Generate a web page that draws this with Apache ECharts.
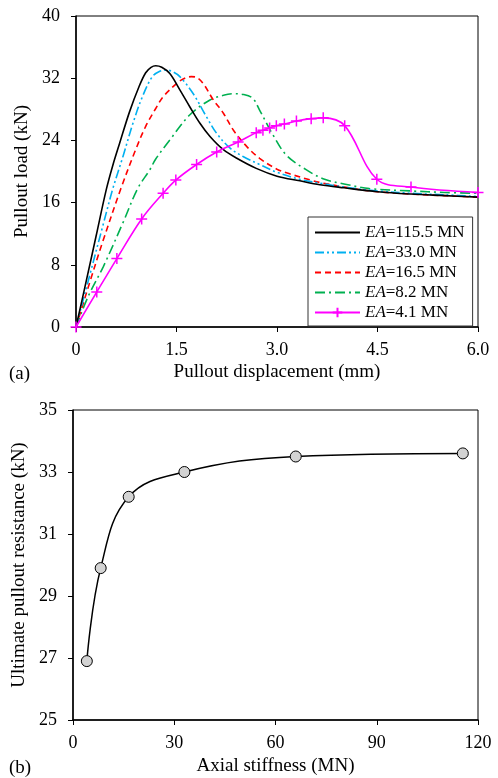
<!DOCTYPE html>
<html>
<head>
<meta charset="utf-8">
<script src="https://cdn.jsdelivr.net/npm/echarts@6/dist/echarts.min.js"></script>
<style>html,body{margin:0;padding:0;background:#fff}#c{width:498px;height:778px}</style>
</head>
<body>
<div id="c"></div>
<script>
// ---- Panel (a): pullout load vs displacement ----
const xTicksA = [0, 1.5, 3.0, 4.5, 6.0];
const yTicksA = [0, 8, 16, 24, 32, 40];
const seriesNamesA = ['EA=115.5 MN', 'EA=33.0 MN', 'EA=16.5 MN', 'EA=8.2 MN', 'EA=4.1 MN'];
const ea115 = [[0,0],[0.15,5.8],[0.3,11.7],[0.45,17.6],[0.55,20.8],[0.65,23.6],[0.8,27.7],[0.94,30.9],[1.04,32.7],[1.12,33.4],[1.19,33.6],[1.28,33.4],[1.4,32.6],[1.55,30.5],[1.7,28.3],[1.85,26.2],[2.0,24.5],[2.2,22.8],[2.4,21.7],[2.69,20.4],[3.0,19.4],[3.34,18.8],[3.64,18.3],[4.0,17.9],[4.5,17.4],[5.0,17.1],[5.5,16.9],[6.0,16.7]];
const ea33 = [[0,0],[0.2,6.5],[0.4,13.0],[0.55,17.8],[0.7,21.9],[0.85,26.2],[0.99,29.6],[1.14,32.2],[1.25,32.9],[1.35,33.05],[1.45,32.8],[1.55,32.2],[1.75,30.0],[1.95,27.0],[2.1,24.9],[2.3,23.0],[2.5,21.9],[2.74,20.9],[3.0,19.9],[3.34,19.0],[3.64,18.5],[4.0,18.0],[4.5,17.5],[5.0,17.2],[5.5,17.0],[6.0,16.8]];
const ea16 = [[0,0],[0.2,5.6],[0.4,11.0],[0.67,17.8],[0.89,22.8],[1.04,25.8],[1.19,28.1],[1.3,29.6],[1.5,31.3],[1.6,31.9],[1.72,32.2],[1.8,32.1],[1.9,31.3],[2.05,29.2],[2.2,27.5],[2.35,25.3],[2.55,23.2],[2.74,21.7],[3.0,20.3],[3.19,19.7],[3.5,18.9],[3.69,18.5],[4.14,17.8],[4.5,17.4],[5.0,17.1],[5.5,16.9],[6.0,16.7]];
const ea8 = [[0,0],[0.18,3.9],[0.41,7.8],[0.7,13.4],[0.92,17.8],[1.1,20.2],[1.19,21.6],[1.4,24.05],[1.7,27.3],[2.0,29.2],[2.2,29.8],[2.35,30.0],[2.5,29.9],[2.64,29.4],[2.74,27.9],[2.94,24.7],[3.14,22.1],[3.44,20.2],[3.71,19.0],[4.0,18.4],[4.38,17.8],[5.0,17.5],[5.5,17.3],[6.0,17.2]];
const ea4 = [[0,0],[0.31,4.5],[0.61,8.8],[0.98,13.9],[1.30,17.2],[1.49,18.9],[1.80,20.9],[2.10,22.5],[2.42,23.8],[2.69,25.0],[2.79,25.3],[2.89,25.6],[2.99,25.9],[3.11,26.1],[3.29,26.5],[3.51,26.8],[3.69,26.9],[4.01,25.9],[4.49,19.0],[5.0,18.0],[6.0,17.3]];

// ---- Panel (b): ultimate pullout resistance vs axial stiffness ----
const xTicksB = [0, 30, 60, 90, 120];
const yTicksB = [25, 27, 29, 31, 33, 35];
const axialStiffness = [4.1, 8.2, 16.5, 33.0, 66.0, 115.5];
const ultimateResistance = [26.9, 29.9, 32.2, 33.0, 33.5, 33.6];

const FONT = 'Liberation Serif';
const tickTxt = {fontFamily: FONT, fontSize: 18, color: '#000'};
const nameTxt = {fontFamily: FONT, fontSize: 19, color: '#000'};

function valueAxis(ticks, fmt, extra, margin) {
  return Object.assign({
    type: 'value', min: ticks[0], max: ticks[ticks.length - 1],
    interval: ticks[1] - ticks[0],
    axisLine: {show: true, lineStyle: {color: '#000', width: 1.5}},
    axisTick: {show: true, inside: false, length: 5, lineStyle: {color: '#000', width: 1}},
    axisLabel: Object.assign({margin: margin, formatter: fmt}, tickTxt),
    splitLine: {show: false},
    nameLocation: 'middle',
    nameTextStyle: nameTxt
  }, extra);
}

const chart = echarts.init(document.getElementById('c'), null, {renderer: 'canvas'});
const lineCommon = {type: 'line', xAxisIndex: 0, yAxisIndex: 0, smooth: 0.35, symbol: 'none', showSymbol: false, animation: false};

chart.setOption({
  backgroundColor: '#fff',
  animation: false,
  title: [
    {text: '(a)', left: 4, top: 360, textStyle: Object.assign({fontWeight: 'normal'}, nameTxt)},
    {text: '(b)', left: 4, top: 754, textStyle: Object.assign({fontWeight: 'normal'}, nameTxt)}
  ],
  grid: [
    {left: 76, top: 16, width: 402, height: 311, show: true, borderColor: '#000', borderWidth: 1, backgroundColor: 'transparent'},
    {left: 73, top: 410, width: 405, height: 310, show: true, borderColor: '#000', borderWidth: 1, backgroundColor: 'transparent'}
  ],
  xAxis: [
    valueAxis(xTicksA, v => v === 0 ? '0' : v.toFixed(1), {gridIndex: 0, name: 'Pullout displacement (mm)', nameGap: 36}, 14),
    valueAxis(xTicksB, v => String(v), {gridIndex: 1, name: 'Axial stiffness (MN)', nameGap: 37}, 14)
  ],
  yAxis: [
    valueAxis(yTicksA, v => String(v), {gridIndex: 0, name: 'Pullout load (kN)', nameGap: 40}, 16),
    valueAxis(yTicksB, v => String(v), {gridIndex: 1, name: 'Ultimate pullout resistance (kN)', nameGap: 41}, 16)
  ],
  legend: {
    data: seriesNamesA.map((n, i) => i < 4 ? {name: n, itemStyle: {opacity: 0}} : {name: n}),
    orient: 'vertical',
    left: 308, top: 217,
    padding: [7, 8, 5, 6],
    itemWidth: 45, itemHeight: 12, itemGap: 3,
    borderColor: '#333', borderWidth: 1, backgroundColor: '#fff',
    formatter: name => name.replace('EA', '{i|EA}'),
    textStyle: {fontFamily: FONT, fontSize: 17, color: '#000', rich: {i: {fontFamily: FONT, fontSize: 17, fontStyle: 'italic', color: '#000'}}}
  },
  series: [
    Object.assign({}, lineCommon, {name: seriesNamesA[0], data: ea115, z: 6, lineStyle: {color: '#000', width: 1.6, type: 'solid'}, itemStyle: {color: '#000'}}),
    Object.assign({}, lineCommon, {name: seriesNamesA[1], data: ea33, z: 5, lineStyle: {color: '#00B0F0', width: 1.6, type: [9, 3, 2, 3, 2, 3]}, itemStyle: {color: '#00B0F0'}}),
    Object.assign({}, lineCommon, {name: seriesNamesA[2], data: ea16, z: 4, lineStyle: {color: '#FF0000', width: 1.6, type: [6, 4]}, itemStyle: {color: '#FF0000'}}),
    Object.assign({}, lineCommon, {name: seriesNamesA[3], data: ea8, z: 3, lineStyle: {color: '#00B050', width: 1.6, type: [10, 4, 2, 4]}, itemStyle: {color: '#00B050'}}),
    Object.assign({}, lineCommon, {name: seriesNamesA[4], data: ea4, z: 7, showSymbol: true,
      symbol: 'path://M5,0L5,10M0,5L10,5', symbolSize: 11,
      lineStyle: {color: '#FF00FF', width: 1.6, type: 'solid'},
      itemStyle: {color: '#FF00FF', borderColor: '#FF00FF', borderWidth: 1.5}}),
    {
      type: 'line', name: 'Ultimate', xAxisIndex: 1, yAxisIndex: 1, smooth: 0.4,
      data: axialStiffness.map((x, i) => [x, ultimateResistance[i]]),
      symbol: 'circle', symbolSize: 11, showSymbol: true,
      lineStyle: {color: '#000', width: 1.5},
      itemStyle: {color: '#D3D3D3', borderColor: '#000', borderWidth: 1}
    }
  ]
});
</script>
</body>
</html>
